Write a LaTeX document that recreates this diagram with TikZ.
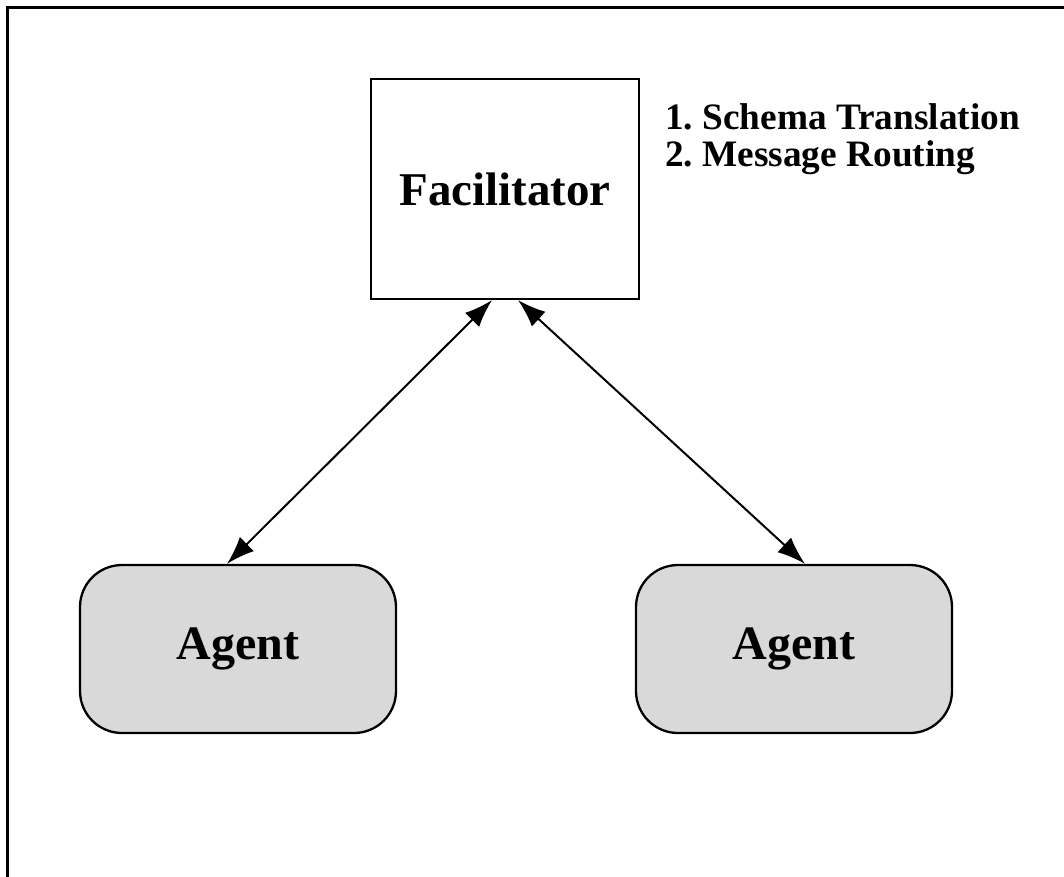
\documentclass[tikz,border=0pt]{standalone}
\usepackage{fontspec}
\setmainfont{Liberation Serif}
\usetikzlibrary{arrows.meta}
\begin{document}
\begin{tikzpicture}[x=1pt,y=-1pt,
  facbox/.style={draw,line width=2.2pt,minimum width=268pt,minimum height=220pt,inner sep=0pt,font=\fontsize{47}{50}\selectfont\bfseries},
  agentbox/.style={draw,line width=2.3pt,fill=black!15,rounded corners=42pt,minimum width=316pt,minimum height=168pt,inner sep=0pt,font=\fontsize{48}{50}\selectfont\bfseries},
  notetext/.style={anchor=base west,inner sep=0pt,font=\fontsize{37.3}{37}\selectfont\bfseries},
  link/.style={line width=2pt,{Latex[length=28pt,width=20pt]}-{Latex[length=28pt,width=20pt]}}]
\useasboundingbox (0,0) rectangle (1064,876);
\draw[line width=3pt] (7,900) -- (7,7) -- (1100,7);
\node[facbox] (fac) at (505,189) {Facilitator};
\node[notetext] (note1) at (665,129) {1.\ Schema Translation};
\node[notetext] (note2) at (665,166) {2.\ Message Routing};
\node[agentbox] (agentL) at (238,649) {Agent};
\node[agentbox] (agentR) at (794,649) {Agent};
\draw[link] ([xshift=-13pt]fac.south) -- ([xshift=-11pt]agentL.north);
\draw[link] ([xshift=13pt]fac.south) -- ([xshift=11pt]agentR.north);
\end{tikzpicture}
\end{document}
